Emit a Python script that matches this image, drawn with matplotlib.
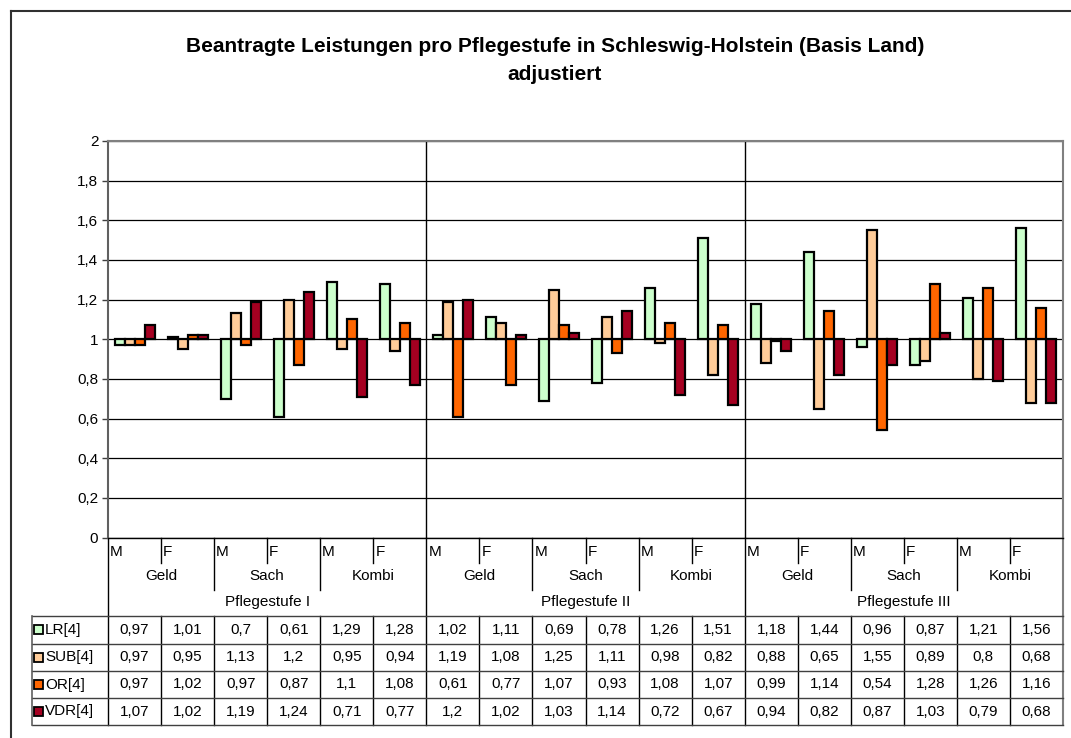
import matplotlib
matplotlib.use("Agg")
import matplotlib.pyplot as plt
import numpy as np
from matplotlib.transforms import blended_transform_factory
from matplotlib.ticker import FuncFormatter

plt.rcParams["font.family"] = ["Liberation Sans", "DejaVu Sans"]

# ── Daten ─────────────────────────────────────────────────────────────
GESCHLECHT = ["M", "F"]
LEISTUNGSART = ["Geld", "Sach", "Kombi"]
PFLEGESTUFEN = ["Pflegestufe I", "Pflegestufe II", "Pflegestufe III"]

SERIEN = ["LR[4]", "SUB[4]", "OR[4]", "VDR[4]"]
FARBEN = ["#CCFFCC", "#FFCC99", "#FF6600", "#A50021"]

LR = [0.97, 1.01, 0.7, 0.61, 1.29, 1.28, 1.02, 1.11, 0.69, 0.78, 1.26, 1.51,
      1.18, 1.44, 0.96, 0.87, 1.21, 1.56]
SUB = [0.97, 0.95, 1.13, 1.2, 0.95, 0.94, 1.19, 1.08, 1.25, 1.11, 0.98, 0.82,
       0.88, 0.65, 1.55, 0.89, 0.8, 0.68]
OR = [0.97, 1.02, 0.97, 0.87, 1.1, 1.08, 0.61, 0.77, 1.07, 0.93, 1.08, 1.07,
      0.99, 1.14, 0.54, 1.28, 1.26, 1.16]
VDR = [1.07, 1.02, 1.19, 1.24, 0.71, 0.77, 1.2, 1.02, 1.03, 1.14, 0.72, 0.67,
       0.94, 0.82, 0.87, 1.03, 0.79, 0.68]
WERTE = [LR, SUB, OR, VDR]

W, H = 1071, 738
FS = 11  # Schriftgröße Achsen / Tabelle
fig = plt.figure(figsize=(W / 100, H / 100), dpi=100)


def fy(px):
    """Pixelzeile (von oben) -> Figure-Koordinate"""
    return 1 - px / H


# Plotbereich in Pixeln
X0, X1, Y0, Y1 = 108, 1063, 141, 537.5
ax = fig.add_axes([X0 / W, fy(Y1), (X1 - X0) / W, (Y1 - Y0) / H])

n = len(LR)
bw = 10 / 53
for j, (vals, col) in enumerate(zip(WERTE, FARBEN)):
    x = np.arange(n) + 0.5 + (j - 1.5) * bw
    v = np.array(vals)
    ax.bar(x, v - 1, bottom=1, width=bw, color=col, edgecolor="black",
           linewidth=1.6, zorder=3)

ax.set_xlim(0, n)
ax.set_ylim(0, 2)
ax.set_yticks(np.arange(0, 2.01, 0.2))
ax.yaxis.set_major_formatter(FuncFormatter(lambda v, _: f"{v:.1f}".rstrip("0").rstrip(".").replace(".", ",")))
ax.tick_params(axis="y", labelsize=FS, length=4, width=1, color="#404040", pad=3)
ax.set_xticks([])
ax.grid(axis="y", color="black", linewidth=0.9, zorder=1)
for sp in ["top", "right"]:
    ax.spines[sp].set_color("#808080")
    ax.spines[sp].set_linewidth(1.5)
ax.spines["left"].set_color("#606060")
ax.spines["left"].set_linewidth(1.5)
ax.spines["bottom"].set_color("black")
ax.spines["bottom"].set_linewidth(1)
for xv in [6, 12]:
    ax.axvline(xv, color="black", linewidth=1, zorder=2)

# ── Kategorienachse und Datentabelle unter dem Diagramm ──────────────
tr = blended_transform_factory(ax.transData, fig.transFigure)


def vlinie(x, ya, yb, color="black", lw=1):
    ax.plot([x, x], [fy(ya), fy(yb)], transform=tr, color=color, lw=lw, clip_on=False)


ZEILEN = [616, 643.5, 671, 698, 725]
dx = 2 / 53

for k in range(n):
    ax.text(k + dx, fy(552), GESCHLECHT[k % 2], transform=tr, ha="left",
            va="center", fontsize=FS)
    if k % 2 == 1:
        vlinie(k, 538, 563)
for g in range(n // 2):
    ax.text(2 * g + 1, fy(576), LEISTUNGSART[g % 3], transform=tr,
            ha="center", va="center", fontsize=FS)
    if g % 3 != 0:
        vlinie(2 * g, 538, 590)
for p, name in enumerate(PFLEGESTUFEN):
    ax.text(6 * p + 3, fy(602), name, transform=tr, ha="center",
            va="center", fontsize=FS)
    vlinie(6 * p, 538, 616)
vlinie(n, 538, 616, color="#808080", lw=1.5)

# Tabelle
for k in range(n + 1):
    farbe = "#808080" if k == n else "black"
    vlinie(k, ZEILEN[0], ZEILEN[-1], color=farbe, lw=1.5 if k == n else 1)
for y in ZEILEN:
    fig.add_artist(plt.Line2D([32 / W, X1 / W], [fy(y), fy(y)], color="#404040", lw=1))
fig.add_artist(plt.Line2D([32 / W, 32 / W], [fy(ZEILEN[0]), fy(ZEILEN[-1])],
                          color="#606060", lw=1.2))

for i, (name, vals, col) in enumerate(zip(SERIEN, WERTE, FARBEN)):
    ym = (ZEILEN[i] + ZEILEN[i + 1]) / 2
    fig.add_artist(plt.Rectangle((34 / W, fy(ym + 4.5)), 8.5 / W, 9 / H,
                                 facecolor=col, edgecolor="black", lw=1.3))
    fig.text(45 / W, fy(ym), name, ha="left", va="center", fontsize=FS)
    for k, v in enumerate(vals):
        ax.text(k + 0.5, fy(ym), f"{v:g}".replace(".", ","), transform=tr,
                ha="center", va="center", fontsize=FS)

# Rahmen (oben, links)
fig.add_artist(plt.Line2D([11 / W, 1], [fy(11), fy(11)], color="#303030", lw=1.5))
fig.add_artist(plt.Line2D([11 / W, 11 / W], [fy(11), 0], color="#303030", lw=1.5))

fig.text(555 / W, fy(46), "Beantragte Leistungen pro Pflegestufe in Schleswig-Holstein (Basis Land)",
         ha="center", va="center", fontsize=15, fontweight="bold")
fig.text(555 / W, fy(75), "adjustiert", ha="center", va="center",
         fontsize=15, fontweight="bold")

fig.savefig("out.png", dpi=100)
